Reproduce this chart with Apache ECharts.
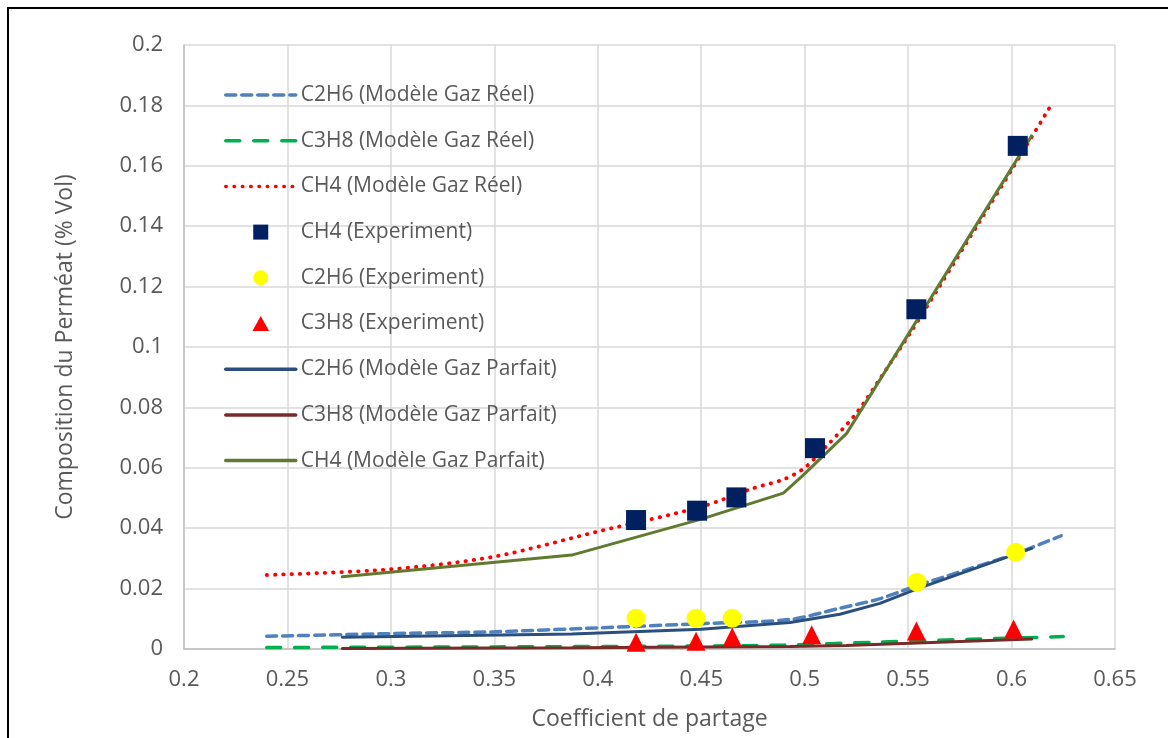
<!DOCTYPE html>
<html>
<head>
<meta charset="utf-8">
<script src="https://cdn.jsdelivr.net/npm/echarts@6/dist/echarts.min.js"></script>
<style>
  html, body { margin: 0; background: #fff; }
  #chart { width: 1168px; height: 738px; }
</style>
</head>
<body>
<div id="chart"></div>
<script>
// modèle gaz réel
const c2h6ReelX = [0.24, 0.30, 0.35, 0.40, 0.45, 0.493, 0.517, 0.536, 0.554, 0.578, 0.601, 0.624];
const c2h6ReelY = [0.0042, 0.0051, 0.0057, 0.0070, 0.0084, 0.0098, 0.0135, 0.0166, 0.0209, 0.0262, 0.0313, 0.0375];
const c3h8ReelX = [0.24, 0.35, 0.45, 0.49, 0.536, 0.58, 0.625];
const c3h8ReelY = [0.0005, 0.0007, 0.0010, 0.0013, 0.0023, 0.0032, 0.0041];
const ch4ReelX = [0.24, 0.30, 0.35, 0.40, 0.45, 0.475, 0.49, 0.50, 0.512, 0.525, 0.536, 0.551, 0.565, 0.585, 0.60, 0.62];
const ch4ReelY = [0.0245, 0.0264, 0.0306, 0.0389, 0.0471, 0.0532, 0.0562, 0.0600, 0.0682, 0.0781, 0.0891, 0.1046, 0.1199, 0.1420, 0.1586, 0.1811];

// experiment
const ch4ExpX = [0.4185, 0.448, 0.467, 0.505, 0.554, 0.603];
const ch4ExpY = [0.0427, 0.0458, 0.0502, 0.0665, 0.1125, 0.1666];
const c2h6ExpX = [0.4185, 0.4475, 0.465, 0.5543, 0.602];
const c2h6ExpY = [0.0102, 0.0102, 0.0102, 0.0221, 0.0320];
const c3h8ExpX = [0.4185, 0.4475, 0.465, 0.5034, 0.554, 0.601];
const c3h8ExpY = [0.0022, 0.0026, 0.0040, 0.0047, 0.0060, 0.0066];

// modèle gaz parfait
const c2h6ParfX = [0.2765, 0.3874, 0.45, 0.4929, 0.517, 0.5364, 0.554, 0.6097];
const c2h6ParfY = [0.0039, 0.0050, 0.0065, 0.0088, 0.0115, 0.0151, 0.0198, 0.0333];
const c3h8ParfX = [0.2765, 0.3874, 0.4929, 0.52, 0.6097];
const c3h8ParfY = [0.0002, 0.0004, 0.0008, 0.0012, 0.0033];
const ch4ParfX = [0.2765, 0.3874, 0.45, 0.4897, 0.4993, 0.5203, 0.6097];
const ch4ParfY = [0.0239, 0.0311, 0.0430, 0.0516, 0.0576, 0.0714, 0.1699];

const xTicks = [0.2, 0.65, 0.05];   // min, max, interval
const yTicks = [0, 0.2, 0.02];

const zip = (xs, ys) => xs.map((x, i) => [x, ys[i]]);
const txt = '#595959';
const font = 'Open Sans';

const lineSerie = (name, xs, ys, color, type, width, extra) => Object.assign({
  name: name,
  type: 'line',
  data: zip(xs, ys),
  symbol: 'none',
  z: 2,
  lineStyle: { color: color, width: width, type: type, cap: 'round' },
  itemStyle: { color: color }
}, extra || {});

const scatterSerie = (name, xs, ys, color, symbol, size) => ({
  name: name,
  type: 'scatter',
  data: zip(xs, ys),
  symbol: symbol,
  symbolSize: size,
  z: 4,
  itemStyle: { color: color, opacity: 1 }
});

// legende : pas de symbole sur les lignes
const lineLegend = (name) => ({
  name: name,
  itemStyle: { color: 'rgba(0,0,0,0)', borderWidth: 0, opacity: 0 },
  lineStyle: { width: 3.5 }
});
// legende : marqueurs carrés, pas étirés
const markLegend = (name, icon) => ({ name: name, icon: icon });

const myChart = echarts.init(document.getElementById('chart'));

const option = {
  animation: false,
  backgroundColor: '#fff',
  textStyle: { fontFamily: font },
  grid: { left: 184, right: 53, top: 45, bottom: 89 },
  graphic: [{
    type: 'rect',
    shape: { x: 8, y: 8, width: 1200, height: 800 },
    style: { fill: 'none', stroke: '#000', lineWidth: 2 },
    silent: true
  }],
  legend: {
    orient: 'vertical',
    left: 219,
    top: 79.5,
    itemWidth: 70,
    itemHeight: 15,
    itemGap: 24.7,
    symbolKeepAspect: true,
    selectedMode: false,
    textStyle: { color: txt, fontSize: 21, fontFamily: font },
    data: [
      lineLegend('C2H6 (Modèle Gaz Réel)'),
      lineLegend('C3H8 (Modèle Gaz Réel)'),
      lineLegend('CH4 (Modèle Gaz Réel)'),
      markLegend('CH4 (Experiment)', 'path://M0,0L10,0L10,10L0,10Z'),
      markLegend('C2H6 (Experiment)', 'circle'),
      markLegend('C3H8 (Experiment)', 'path://M5,0L10,9L0,9Z'),
      lineLegend('C2H6 (Modèle Gaz Parfait)'),
      lineLegend('C3H8 (Modèle Gaz Parfait)'),
      lineLegend('CH4 (Modèle Gaz Parfait)')
    ]
  },
  xAxis: {
    type: 'value',
    min: xTicks[0],
    max: xTicks[1],
    interval: xTicks[2],
    name: 'Coefficient de partage',
    nameLocation: 'middle',
    nameGap: 59,
    nameTextStyle: { color: txt, fontSize: 23, fontFamily: font },
    axisLine: { show: true, lineStyle: { color: '#bfbfbf', width: 1.5 } },
    axisTick: { show: false },
    axisLabel: { color: txt, fontSize: 22, margin: 20 },
    splitLine: { show: true, lineStyle: { color: '#d9d9d9', width: 1.5 } }
  },
  yAxis: {
    type: 'value',
    min: yTicks[0],
    max: yTicks[1],
    interval: yTicks[2],
    name: 'Composition du Perméat (% Vol)',
    nameLocation: 'middle',
    nameGap: 107,
    nameTextStyle: { color: txt, fontSize: 23, fontFamily: font },
    axisLine: { show: true, lineStyle: { color: '#bfbfbf', width: 1.5 } },
    axisTick: { show: false },
    axisLabel: { color: txt, fontSize: 22, margin: 21 },
    splitLine: { show: true, lineStyle: { color: '#d9d9d9', width: 1.5 } }
  },
  series: [
    lineSerie('C2H6 (Modèle Gaz Réel)', c2h6ReelX, c2h6ReelY, '#4f81bd', [10, 6], 3.5, { smooth: 0.3 }),
    lineSerie('C3H8 (Modèle Gaz Réel)', c3h8ReelX, c3h8ReelY, '#00b050', [14, 14], 3.5, { smooth: 0.3 }),
    lineSerie('CH4 (Modèle Gaz Réel)', ch4ReelX, ch4ReelY, '#ff0000', [0.5, 7.8], 3.8, { smooth: 0.3 }),
    scatterSerie('CH4 (Experiment)', ch4ExpX, ch4ExpY, '#002060', 'rect', 20),
    scatterSerie('C2H6 (Experiment)', c2h6ExpX, c2h6ExpY, '#ffff00', 'circle', 19),
    scatterSerie('C3H8 (Experiment)', c3h8ExpX, c3h8ExpY, '#ff0000', 'triangle', 19),
    lineSerie('C2H6 (Modèle Gaz Parfait)', c2h6ParfX, c2h6ParfY, '#2a4f7e', 'solid', 3, { z: 3 }),
    lineSerie('C3H8 (Modèle Gaz Parfait)', c3h8ParfX, c3h8ParfY, '#772c2a', 'solid', 3, { z: 3 }),
    lineSerie('CH4 (Modèle Gaz Parfait)', ch4ParfX, ch4ParfY, '#617a2f', 'solid', 3, { z: 3 })
  ]
};

option && myChart.setOption(option);
</script>
</body>
</html>
